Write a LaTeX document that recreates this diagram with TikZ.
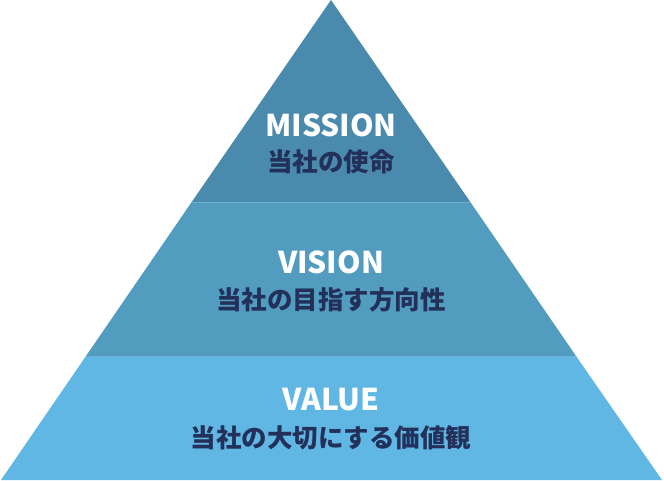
\documentclass[tikz,border=0pt]{standalone}
\usepackage{fontspec}
\setmainfont{Noto Sans}
\newfontfamily\jpfont{Noto Sans CJK JP}
\usetikzlibrary{positioning}
\definecolor{topband}{HTML}{4A8AAD}
\definecolor{midband}{HTML}{529CC0}
\definecolor{lowband}{HTML}{61B7E4}
\definecolor{seamline}{HTML}{6DB0D6}
\definecolor{navytext}{HTML}{22305A}

\begin{document}
\begin{tikzpicture}[x=1pt, y=-1pt]
\tikzset{
  title/.style={font=\jpfont\fontsize{30}{32}\selectfont\bfseries, text=white, inner sep=0pt},
  subtitle/.style={font=\jpfont\fontsize{25.5}{28}\selectfont\bfseries, text=navytext, inner sep=0pt},
}
\useasboundingbox (0,0) rectangle (664,481);
% corners of the pyramid
\coordinate (apex) at (331,0);
\coordinate (bl) at (1,480);
\coordinate (br) at (662,480);
\coordinate (ml1) at (191,203);
\coordinate (mr1) at (471,203);
\coordinate (ml2) at (86,356);
\coordinate (mr2) at (576,356);
% bands
\fill[topband] (apex) -- (mr1) -- (ml1) -- cycle;
\fill[midband] (ml1) -- (mr1) -- (mr2) -- (ml2) -- cycle;
\fill[lowband] (ml2) -- (mr2) -- (br) -- (bl) -- cycle;
\draw[seamline, line width=1pt] (ml1) -- (mr1);
\draw[seamline, line width=1pt] (ml2) -- (mr2);
% labels
\node[title] (mission) at (331,125) {MISSION};
\node[subtitle] (missionjp) at (331,162) {当社の使命};
\node[title] (vision) at (331,262) {VISION};
\node[subtitle] (visionjp) at (331,300) {当社の目指す方向性};
\node[title] (value) at (331,400) {VALUE};
\node[subtitle] (valuejp) at (331,438) {当社の大切にする価値観};
\end{tikzpicture}
\end{document}
